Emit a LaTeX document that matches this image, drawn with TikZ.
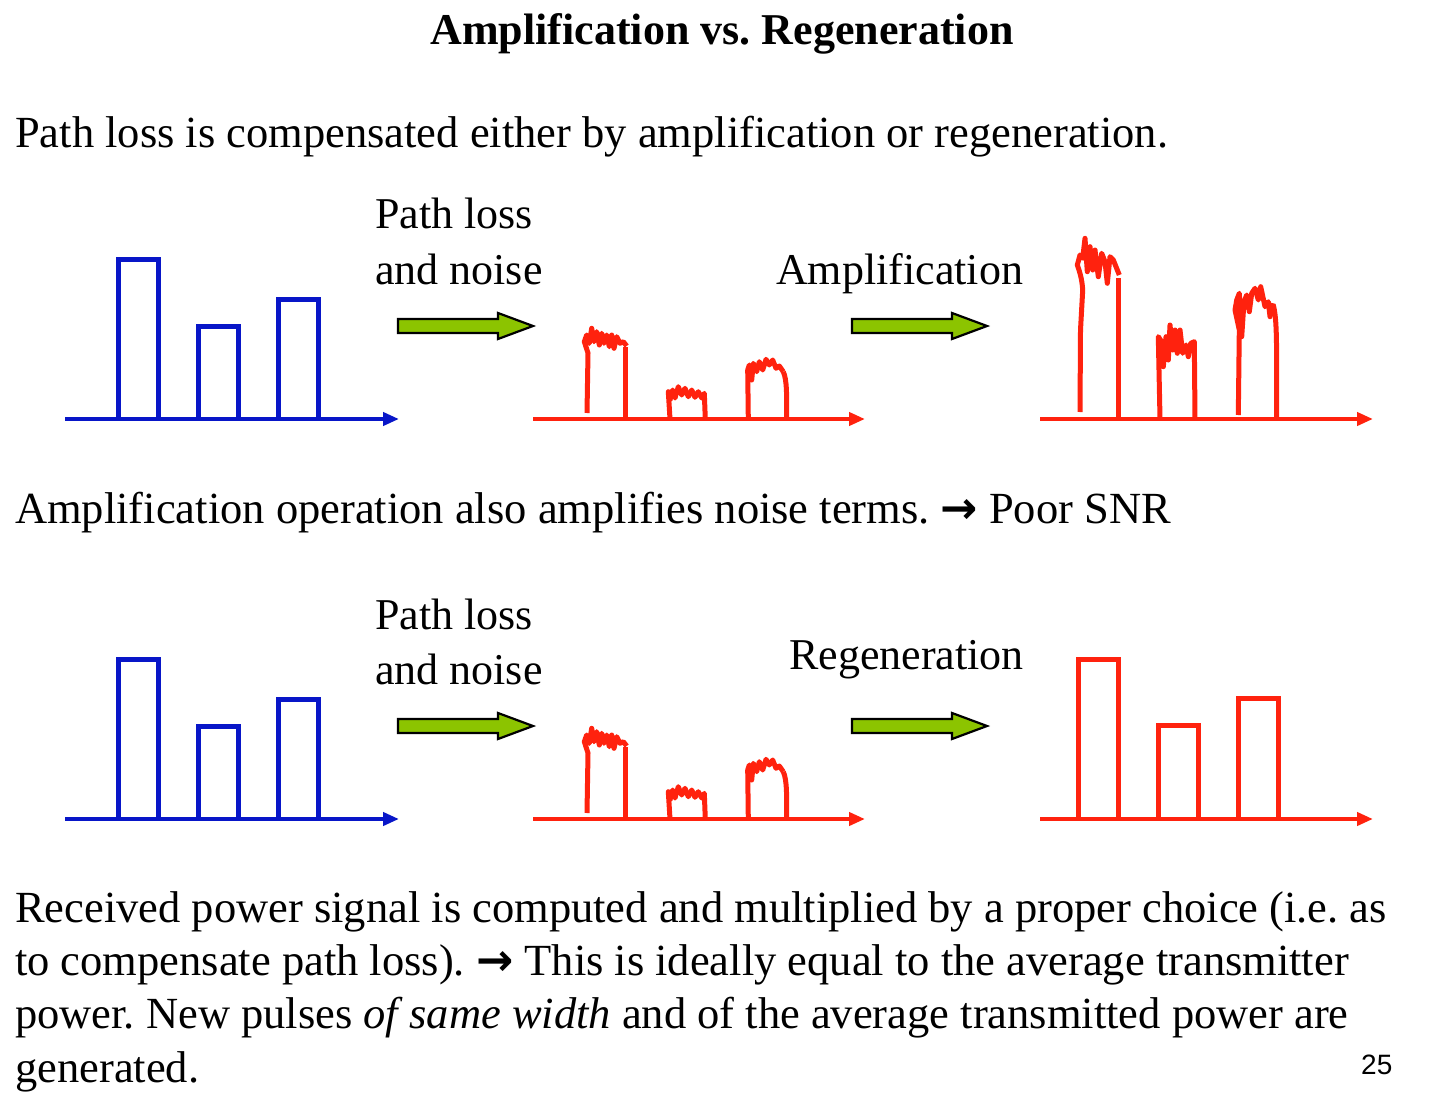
\documentclass[tikz,border=0pt]{standalone}
\usepackage{fontspec}
\setmainfont{Liberation Serif}
\newfontfamily\arialfont{Liberation Sans}
\newfontfamily\symfont{DejaVu Sans}
\usetikzlibrary{arrows.meta}
\definecolor{sigblue}{RGB}{8,22,200}
\definecolor{sigred}{RGB}{255,34,14}
\definecolor{arrgreen}{RGB}{140,196,0}
\newcommand{\rarr}{{\symfont\bfseries →}}
\frenchspacing
\tikzset{
  txt/.style={anchor=base west, inner sep=0pt, font=\fontsize{44.5}{53}\selectfont},
  lbl/.style={anchor=base west, inner sep=0pt, font=\fontsize{44}{55}\selectfont},
  ttl/.style={anchor=base, inner sep=0pt, font=\fontsize{44}{53}\selectfont\bfseries},
  axisblue/.style={draw=sigblue, line width=4.5pt, -{Triangle[length=16pt,width=13pt]}},
  axisred/.style={draw=sigred, line width=4.5pt, -{Triangle[length=16pt,width=13pt]}},
  bluepulse/.style={draw=sigblue, line width=5pt, line join=miter},
  redpulse/.style={draw=sigred, line width=5pt, line join=miter},
  noisy/.style={draw=sigred, line width=5pt, line join=round},
  blockarrow/.pic={\draw[fill=arrgreen, draw=black, line width=2.2pt, line join=miter]
     (0,-7) -- (100,-7) -- (100,-13) -- (135,0) -- (100,13) -- (100,7) -- (0,7) -- cycle;}
}
\begin{document}
\begin{tikzpicture}[x=1pt,y=-1pt]
\useasboundingbox[fill=white] (0,0) rectangle (1448,1110);

% ---------- texts ----------
\node[ttl] (title) at (722,45) {Amplification vs. Regeneration};
\node[txt] (intro) at (15,148) {Path loss is compensated either by amplification or regeneration.};
\node[lbl] (pl1) at (375,229) {Path loss};
\node[lbl] (an1) at (375,284) {and noise};
\node[lbl] (amp) at (776,284) {Amplification};
\node[txt] (ampnote) at (15,523) {Amplification operation also amplifies noise terms. \rarr\ Poor SNR};
\node[lbl] (pl2) at (375,629) {Path loss};
\node[lbl] (an2) at (375,684) {and noise};
\node[lbl] (reg) at (789,669) {Regeneration};
\node[txt] (p1) at (15,922) {Received power signal is computed and multiplied by a proper choice (i.e. as};
\node[txt] (p2) at (15,975) {to compensate path loss). \rarr\ This is ideally equal to the average transmitter};
\node[txt] (p3) at (15,1028) {power. New pulses \textit{of same width} and of the average transmitted power are};
\node[txt] (p4) at (15,1082) {generated.};
\node[anchor=base west, inner sep=0pt, font=\fontsize{28}{32}\selectfont\arialfont] (pg) at (1361,1074) {25};

% ---------- top row ----------
\draw[axisblue] (65,419) -- (399,419);
\draw[bluepulse] (118,419) -- (118,259) -- (158,259) -- (158,419);
\draw[bluepulse] (198,419) -- (198,326) -- (238,326) -- (238,419);
\draw[bluepulse] (278,419) -- (278,299) -- (318,299) -- (318,419);
\pic at (398,326) {blockarrow};

\begin{scope}
\draw[axisred] (533,419) -- (865,419);
\draw[noisy] (587,413) -- (588,353) -- (584.3,341.7) -- (586.7,335) -- (589.3,343.3) -- (591.7,328.3) -- (594,341.7) -- (596.7,331.7) -- (599.3,345) -- (601.7,333.3) -- (604,343.3) -- (606.7,335) -- (609.3,346.7) -- (611.7,335) -- (614,348.3) -- (616.7,336.7) -- (620,343.3) -- (623.3,341.7) -- (626.7,346);
\draw[noisy] (625.3,347.3) -- (625.3,419);
\draw[noisy] (670,419) -- (668.3,391.7) -- (670,400) -- (672.7,390) -- (675,398) -- (678.3,386.7) -- (681.7,395) -- (685,388.3) -- (688.3,396.7) -- (691.7,390) -- (695,397.3) -- (698.3,391.7) -- (701.7,398) -- (704.3,393.3) -- (705.3,419);
\draw[noisy] (748.3,419) -- (747.7,370) -- (749.3,365) -- (751.7,380) -- (753.3,363.3) -- (756.7,371.7) -- (759.3,361.7) -- (762.7,370) -- (766,359.3) -- (769.3,365) -- (772.7,360) -- (776,368.3) -- (779.3,366) -- (783.3,371.7);
\draw[noisy] (783.3,371.7) .. controls (787,380) and (786.7,395) .. (786.7,419);
\end{scope}
\pic at (852,326) {blockarrow};

\draw[axisred] (1040,419) -- (1373,419);
\draw[noisy] (1080,412) -- (1080.5,330) -- (1082.7,290) .. controls (1082,278) and (1079,270) .. (1077.3,265) -- (1080,255) -- (1082.7,258.3) -- (1085,238.3) -- (1087.3,271.7) -- (1090,246.7) -- (1092.7,270) -- (1095,250) -- (1098.3,276.7) -- (1101.7,253.3) -- (1105,261.7) -- (1107.3,283.3) -- (1110,256.7) -- (1113.3,260) -- (1119.3,275);
\draw[noisy] (1118.3,278.3) -- (1118.3,419);
\draw[noisy] (1160,419) -- (1158.3,336.7) -- (1161.7,341.7) -- (1163.3,366.7) -- (1166,336.7) -- (1168.3,360) -- (1170,325) -- (1172.7,350) -- (1175,330) -- (1177.3,353.3) -- (1180,330) -- (1182.7,353.3) -- (1186,345) -- (1188.3,356.7) -- (1190.7,343.3) -- (1194.3,341.7) -- (1195,419);
\draw[noisy] (1238.3,415) -- (1239.3,330) -- (1235,310) -- (1236.7,300) -- (1239.3,293.3) -- (1241.7,336.7) -- (1244,301.7) -- (1246.7,295) -- (1249.3,311.7) -- (1251.7,293.3) -- (1255,288.3) -- (1258.3,300) -- (1260.7,286.7) -- (1265,306.7) -- (1268.3,301.7) -- (1270,316.7) -- (1273.3,303.3);
\draw[noisy] (1273.3,305) .. controls (1277,320) and (1276.7,340) .. (1276.7,419);

% ---------- bottom row ----------
\draw[axisblue] (65,819) -- (399,819);
\draw[bluepulse] (118,819) -- (118,659) -- (158,659) -- (158,819);
\draw[bluepulse] (198,819) -- (198,726) -- (238,726) -- (238,819);
\draw[bluepulse] (278,819) -- (278,699) -- (318,699) -- (318,819);
\pic at (398,726) {blockarrow};

\begin{scope}[shift={(0,400)}]
\draw[axisred] (533,419) -- (865,419);
\draw[noisy] (587,413) -- (588,353) -- (584.3,341.7) -- (586.7,335) -- (589.3,343.3) -- (591.7,328.3) -- (594,341.7) -- (596.7,331.7) -- (599.3,345) -- (601.7,333.3) -- (604,343.3) -- (606.7,335) -- (609.3,346.7) -- (611.7,335) -- (614,348.3) -- (616.7,336.7) -- (620,343.3) -- (623.3,341.7) -- (626.7,346);
\draw[noisy] (625.3,347.3) -- (625.3,419);
\draw[noisy] (670,419) -- (668.3,391.7) -- (670,400) -- (672.7,390) -- (675,398) -- (678.3,386.7) -- (681.7,395) -- (685,388.3) -- (688.3,396.7) -- (691.7,390) -- (695,397.3) -- (698.3,391.7) -- (701.7,398) -- (704.3,393.3) -- (705.3,419);
\draw[noisy] (748.3,419) -- (747.7,370) -- (749.3,365) -- (751.7,380) -- (753.3,363.3) -- (756.7,371.7) -- (759.3,361.7) -- (762.7,370) -- (766,359.3) -- (769.3,365) -- (772.7,360) -- (776,368.3) -- (779.3,366) -- (783.3,371.7);
\draw[noisy] (783.3,371.7) .. controls (787,380) and (786.7,395) .. (786.7,419);
\end{scope}
\pic at (852,726) {blockarrow};

\draw[axisred] (1040,819) -- (1373,819);
\draw[redpulse] (1078,819) -- (1078,659) -- (1118,659) -- (1118,819);
\draw[redpulse] (1158,819) -- (1158,725) -- (1198,725) -- (1198,819);
\draw[redpulse] (1238,819) -- (1238,698) -- (1278,698) -- (1278,819);
\end{tikzpicture}
\end{document}
